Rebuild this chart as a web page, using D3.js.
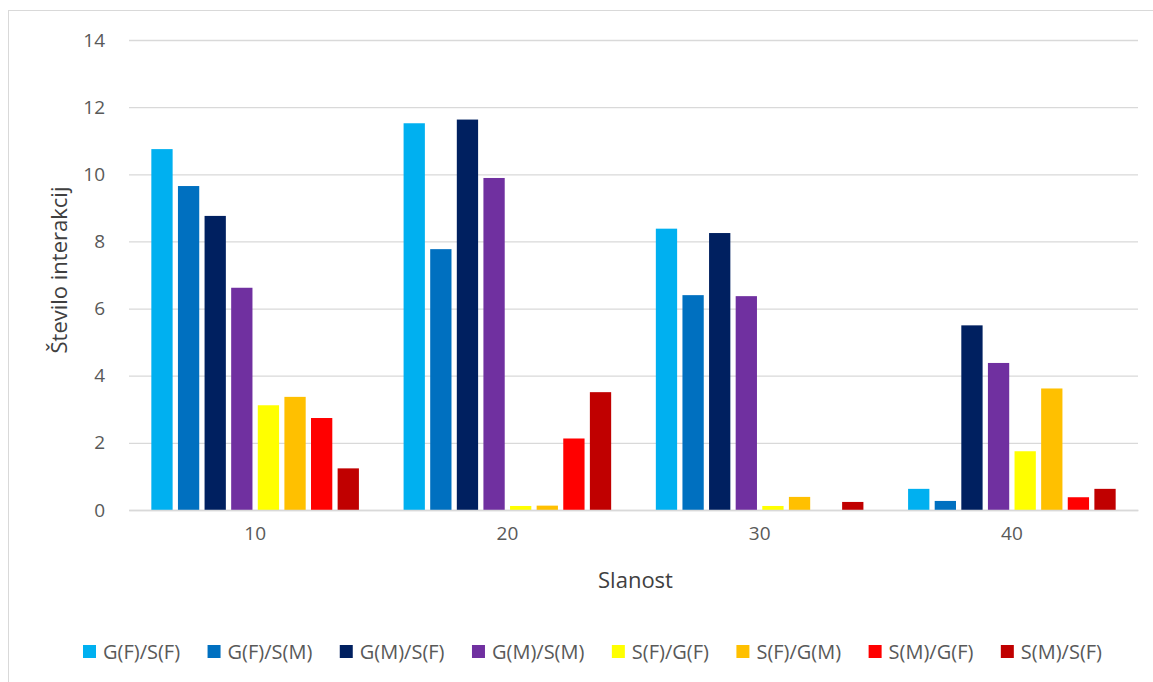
<!DOCTYPE html>
<html>
<head>
<meta charset="utf-8">
<script src="https://cdn.jsdelivr.net/npm/d3@7"></script>
<style>
  html, body { margin: 0; padding: 0; background: #ffffff; }
  svg { display: block; font-family: "Open Sans", Lato, sans-serif; }
</style>
</head>
<body>
<svg id="chart" width="1153" height="682"></svg>
<script>
const categories = ["10", "20", "30", "40"];
const seriesNames = ["G(F)/S(F)", "G(F)/S(M)", "G(M)/S(F)", "G(M)/S(M)", "S(F)/G(F)", "S(F)/G(M)", "S(M)/G(F)", "S(M)/S(F)"];
const seriesColors = ["#00B0F0", "#0070C0", "#002060", "#7030A0", "#FFFF00", "#FFC000", "#FF0000", "#C00000"];
const gfsf = [10.75, 11.52, 8.38, 0.63];
const gfsm = [9.65, 7.77, 6.40, 0.27];
const gmsf = [8.76, 11.63, 8.25, 5.50];
const gmsm = [6.62, 9.89, 6.37, 4.38];
const sfgf = [3.12, 0.12, 0.12, 1.75];
const sfgm = [3.37, 0.13, 0.39, 3.62];
const smgf = [2.74, 2.13, 0, 0.38];
const smsf = [1.24, 3.51, 0.24, 0.63];
const seriesValues = [gfsf, gfsm, gmsf, gmsm, sfgf, sfgm, smgf, smsf];
const yTicks = [0, 2, 4, 6, 8, 10, 12, 14];
const xTitle = "Slanost";
const yTitle = "Število interakcij";

const svg = d3.select("#chart");
const textColor = "#595959";
const gridColor = "#d9d9d9";
const font = "'Open Sans', Lato, sans-serif";

// chart border
svg.append("rect")
  .attr("x", 8.5).attr("y", 10.5)
  .attr("width", 1160).attr("height", 690)
  .attr("fill", "none").attr("stroke", gridColor).attr("stroke-width", 1);

const plot = { left: 129, right: 1138, top: 40, bottom: 510 };

const y = d3.scaleLinear().domain([0, 14]).range([plot.bottom, plot.top]);
const x0 = d3.scaleBand().domain(categories).range([plot.left, plot.right])
  .paddingInner(0.156).paddingOuter(0.078);
const x1 = d3.scaleBand().domain(seriesNames).range([0, x0.bandwidth()])
  .paddingInner(0.2).paddingOuter(0.1);

// gridlines + y tick labels
const yAxis = d3.axisLeft(y).tickValues(yTicks).tickSize(-(plot.right - plot.left)).tickPadding(24);
const gy = svg.append("g").attr("transform", `translate(${plot.left},0)`).call(yAxis);
gy.select(".domain").remove();
gy.selectAll(".tick line").attr("stroke", gridColor).attr("stroke-width", 1.3);
gy.selectAll(".tick text").attr("fill", textColor).attr("font-size", 19)
  .attr("font-family", font);

// bars
const groups = svg.append("g").selectAll("g")
  .data(categories).join("g")
  .attr("transform", d => `translate(${x0(d)},0)`);

groups.selectAll("rect")
  .data((c, ci) => seriesNames.map((s, si) => ({ s, v: seriesValues[si][ci], color: seriesColors[si] })))
  .join("rect")
  .attr("x", d => x1(d.s))
  .attr("width", x1.bandwidth())
  .attr("y", d => y(d.v))
  .attr("height", d => y(0) - y(d.v))
  .attr("fill", d => d.color);

// x axis
const xAxis = d3.axisBottom(x0).tickSize(0).tickPadding(17);
const gx = svg.append("g").attr("transform", `translate(0,${plot.bottom})`).call(xAxis);
gx.select(".domain").attr("stroke", gridColor).attr("stroke-width", 1.3);
gx.selectAll(".tick text").attr("fill", textColor).attr("font-size", 19)
  .attr("font-family", font);

// axis titles
svg.append("text")
  .attr("x", (plot.left + plot.right) / 2 + 2).attr("y", 588)
  .attr("text-anchor", "middle").attr("fill", "#404040").attr("font-size", 22)
  .text(xTitle);

svg.append("text")
  .attr("transform", `translate(67,${(plot.top + plot.bottom) / 2 - 5}) rotate(-90)`)
  .attr("text-anchor", "middle").attr("fill", "#404040").attr("font-size", 22)
  .text(yTitle);

// legend
const legend = svg.append("g");
const items = legend.selectAll("g").data(seriesNames).join("g");
items.append("rect").attr("width", 13).attr("height", 13).attr("y", -14)
  .attr("fill", (d, i) => seriesColors[i]);
items.append("text").attr("x", 20).attr("y", 0)
  .attr("fill", textColor).attr("font-size", 20).text(d => d);
const widths = [];
items.each(function () { widths.push(this.querySelector("text").getComputedTextLength() + 20); });
const legStart = 83, legEnd = 1102;
const gap = (legEnd - legStart - d3.sum(widths)) / (widths.length - 1);
const pos = [];
let cx = legStart;
widths.forEach(w => { pos.push(cx); cx += w + gap; });
items.attr("transform", (d, i) => `translate(${pos[i]},659)`);
</script>
</body>
</html>
